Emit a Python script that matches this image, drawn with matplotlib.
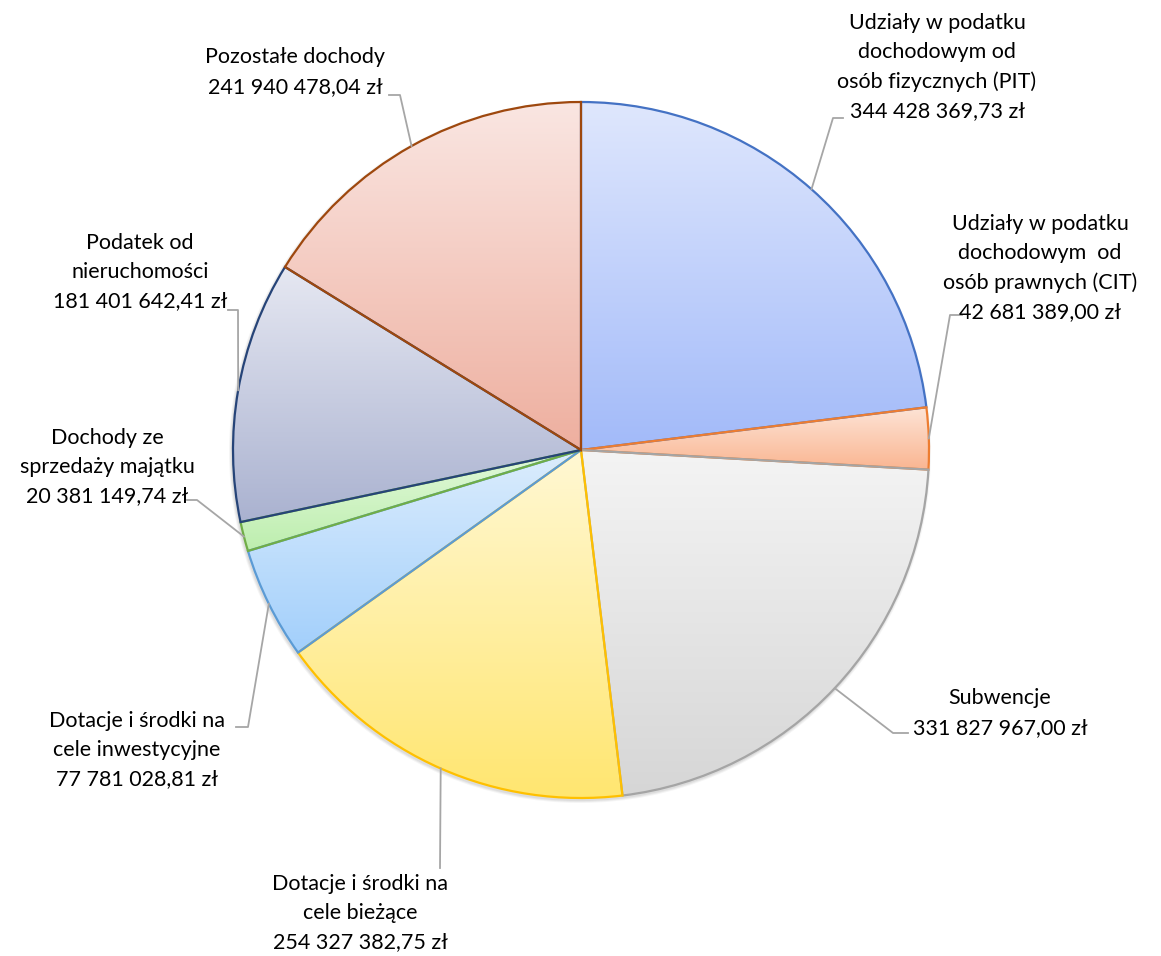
import numpy as np
import matplotlib.pyplot as plt
from matplotlib.colors import to_rgb

# Dochody budżetu - struktura
labels = [
    'Udziały w podatku\ndochodowym od\nosób fizycznych (PIT)',
    'Udziały w podatku\ndochodowym  od\nosób prawnych (CIT)',
    'Subwencje',
    'Dotacje i środki na\ncele bieżące',
    'Dotacje i środki na\ncele inwestycyjne',
    'Dochody ze\nsprzedaży majątku',
    'Podatek od\nnieruchomości',
    'Pozostałe dochody',
]
values = [344428369.73, 42681389.00, 331827967.00, 254327382.75,
          77781028.81, 20381149.74, 181401642.41, 241940478.04]

edge_colors = ['#4472c4', '#ed7d31', '#a5a5a5', '#ffc000',
               '#5b9bd5', '#70ad47', '#264478', '#9e480e']
top_colors = ['#dfe7fd', '#fde4d6', '#f4f4f4', '#fff8d4',
              '#dcedfd', '#e2f9da', '#e6e8f2', '#fae6e2']
bottom_colors = ['#a2baf9', '#fab591', '#d6d6d6', '#ffe670',
                 '#a2cffb', '#bdeeae', '#aab2d0', '#eeaf9f']

W, H = 1161, 956
cx, cy, R = 581, H - 450, 348

# label text position (pixels, from top) and leader elbow
label_pos = [(937, 67), (1040, 268), (1000, 713), (360, 913),
             (137, 750), (107, 467), (140, 272), (295, 72)]
elbows = [(833, 118, 843), (950, 315, 962), (893, 733, 908), (440, 868, 440),
          (248, 727, 236), (197, 500, 187), (238, 310, 228), (400, 95, 389)]


def fmt(v):
    return f"{v:,.2f}".replace(",", " ").replace(".", ",") + " zł"


fig = plt.figure(figsize=(W / 100, H / 100), dpi=100)
ax = fig.add_axes([0, 0, 1, 1])

# soft shadow behind the pie
for i, a in enumerate([0.05, 0.05, 0.04]):
    sh = plt.Circle((cx - 1, cy - 2), R + 1 + i, color='#000000', alpha=a, lw=0, zorder=0)
    ax.add_patch(sh)

wedges, _ = ax.pie(values, startangle=90, counterclock=False, center=(cx, cy),
                   radius=R, frame=True)

for w, ec, tc, bc in zip(wedges, edge_colors, top_colors, bottom_colors):
    ext = w.get_path().get_extents()
    grad = np.linspace(0, 1, 256)[:, None, None]
    img = (1 - grad) * np.array(to_rgb(bc)) + grad * np.array(to_rgb(tc))
    im = ax.imshow(img, extent=[ext.x0, ext.x1, ext.y0, ext.y1], origin='lower',
                   aspect='auto', zorder=1, interpolation='bilinear')
    im.set_clip_path(w)
    w.set_facecolor('none')
    w.set_edgecolor(ec)
    w.set_linewidth(1.6)
    w.set_zorder(2)

# labels with leader lines
for w, lab, v, (tx, ty), (ex, ey, hx) in zip(wedges, labels, values, label_pos, elbows):
    mid = np.deg2rad((w.theta1 + w.theta2) / 2)
    px, py = cx + R * np.cos(mid), cy + R * np.sin(mid)
    ax.plot([px, ex, hx], [py, H - ey, H - ey], color='#a6a6a6', lw=1.3, zorder=3)
    ax.text(tx, H - ty, lab + '\n' + fmt(v), ha='center', va='center',
            fontsize=15.5, family='Lato', color='#000000', linespacing=1.58, zorder=4)

ax.set_xlim(0, W)
ax.set_ylim(0, H)
ax.set_aspect('equal')
ax.axis('off')

plt.savefig('out.png', dpi=100)
